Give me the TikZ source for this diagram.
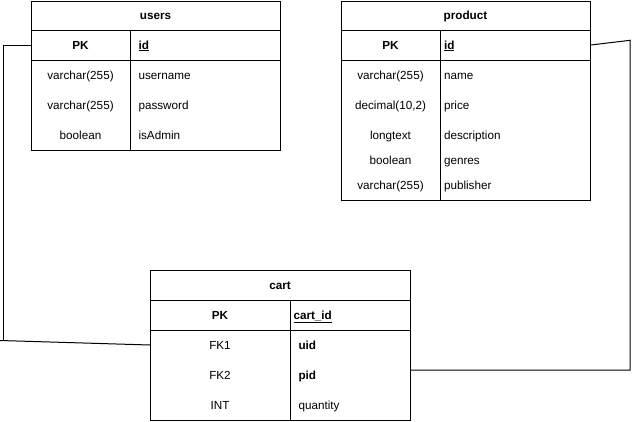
\documentclass[tikz,border=0pt]{standalone}
\usepackage{fontspec}
\setmainfont{Liberation Sans}
\begin{document}
\begin{tikzpicture}[x=1pt,y=-1pt,line width=1pt,
  tbl/.style={draw,line width=1pt,anchor=north west,inner sep=0pt},
  txt/.style={font=\fontsize{11.7}{14}\selectfont,inner sep=0pt,text height=8.5pt,text depth=2.4pt,yshift=-1pt},
  ttl/.style={txt,font=\fontsize{11.7}{14}\selectfont\bfseries},
  lft/.style={txt,anchor=west},
  sep/.style={line width=1pt},
  conn/.style={line width=1pt}]
\useasboundingbox (0,0) rectangle (632,421);
% users table
\node[tbl,minimum width=249pt,minimum height=149pt] (users) at (31,1) {};
\draw[sep] (31,30) -- (280,30) (31,60) -- (280,60) (130,30) -- (130,150);
\node[ttl] (ut) at (155.5,15) {users};
\node[ttl] (upk) at (80.5,45) {PK};
\node[lft,font=\fontsize{11.7}{14}\selectfont\bfseries] (uid) at (138,45) {\underline{id}};
\node[txt] (ut1) at (80.5,75) {varchar(255)};
\node[lft] (un1) at (138,75) {username};
\node[txt] (ut2) at (80.5,105) {varchar(255)};
\node[lft] (un2) at (138,105) {password};
\node[txt] (ut3) at (80.5,135) {boolean};
\node[lft] (un3) at (138,135) {isAdmin};
% product table
\node[tbl,minimum width=249pt,minimum height=199pt] (product) at (341,1) {};
\draw[sep] (341,30) -- (590,30) (341,60) -- (590,60) (440,30) -- (440,200);
\node[ttl] (pt) at (465.5,15) {product};
\node[ttl] (ppk) at (390.5,45) {PK};
\node[lft,font=\fontsize{11.7}{14}\selectfont\bfseries] (pid) at (443.5,45) {\underline{id}};
\node[txt] (pt1) at (390.5,75) {varchar(255)};
\node[lft] (pn1) at (443.5,75) {name};
\node[txt] (pt2) at (390.5,105) {decimal(10,2)};
\node[lft] (pn2) at (443.5,105) {price};
\node[txt] (pt3) at (390.5,135) {longtext};
\node[lft] (pn3) at (443.5,135) {description};
\node[txt] (pt4) at (390.5,160) {boolean};
\node[lft] (pn4) at (443.5,160) {genres};
\node[txt] (pt5) at (390.5,185) {varchar(255)};
\node[lft] (pn5) at (443.5,185) {publisher};
% cart table
\node[tbl,minimum width=260pt,minimum height=150pt] (cart) at (150,270) {};
\draw[sep] (150,300) -- (410,300) (150,330) -- (410,330) (290,300) -- (290,420);
\node[ttl] (ct) at (280,285) {cart};
\node[ttl] (cpk) at (220,315) {PK};
\node[lft,font=\fontsize{11.7}{14}\selectfont\bfseries] (cid) at (293,315) {\underline{cart\_id}};
\node[txt] (fk1) at (220,345) {FK1};
\node[lft,font=\fontsize{11.7}{14}\selectfont\bfseries] (cuid) at (298,345) {uid};
\node[txt] (fk2) at (220,375) {FK2};
\node[lft,font=\fontsize{11.7}{14}\selectfont\bfseries] (cpid) at (298,375) {pid};
\node[txt] (cint) at (220,405) {INT};
\node[lft] (cq) at (298,405) {quantity};
% connectors
\coordinate (u1) at (3.5,45);
\coordinate (u2) at (3.5,340.5);
\coordinate (u3) at (0,340.5);
\coordinate (u4) at (150,345);
\draw[conn] (users.west |- u1) -- (u1) -- (u2);
\draw[conn] (u3) -- (u4);
\coordinate (p0) at (590,45);
\coordinate (p1) at (630,40.3);
\coordinate (p2) at (630,370);
\draw[conn] (product.east |- p0) -- (p1) -- (p2) -- (cart.east |- p2);
\end{tikzpicture}
\end{document}
